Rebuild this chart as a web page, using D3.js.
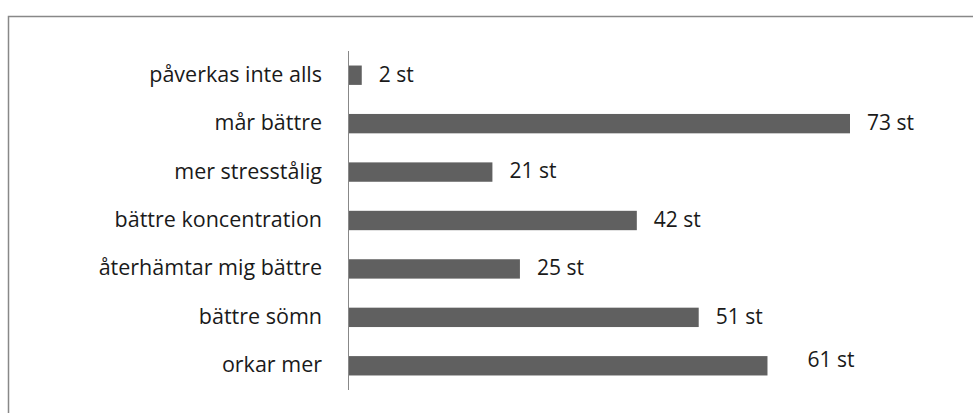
<!DOCTYPE html>
<html><head><meta charset="utf-8">
<script src="https://cdn.jsdelivr.net/npm/d3@7"></script>
<style>html,body{margin:0;padding:0;background:#fff;overflow:hidden}</style>
</head><body>
<svg id="c" width="973" height="413"></svg>
<script>
const categories = ["påverkas inte alls","mår bättre","mer stresstålig","bättre koncentration","återhämtar mig bättre","bättre sömn","orkar mer"];
const values = [2,73,21,42,25,51,61];
const valueLabels = ["2 st","73 st","21 st","42 st","25 st","51 st","61 st"];

const svg = d3.select("#c");
const font = "'Open Sans', sans-serif";
svg.append("rect").attr("x",8.5).attr("y",16.5).attr("width",1000).attr("height",500)
  .attr("fill","#fff").attr("stroke","#888").attr("stroke-width",1.5);

const x0 = 348;
const x = d3.scaleLinear().domain([0,73]).range([x0, 850]);
const y = d3.scaleBand().domain(categories).range([51, 390]).paddingInner(0.6).paddingOuter(0.3);

svg.append("g").selectAll("rect").data(values).join("rect")
  .attr("x", x(0)).attr("y",(d,i)=>y(categories[i]))
  .attr("width", d=>x(d)-x(0)).attr("height", y.bandwidth())
  .attr("fill","#606060");

const yAxis = d3.axisLeft(y).tickSize(0).tickPadding(26);
const g = svg.append("g").attr("transform",`translate(${x0},0)`).call(yAxis);
g.select(".domain").attr("stroke","#888").attr("stroke-width",1).attr("d","M0.5,51V390");
g.selectAll("text").attr("font-family",font).attr("font-size",21.5).attr("fill","#1a1a1a").attr("dy","0.3em");

svg.append("g").selectAll("text").data(values).join("text")
  .attr("x",(d,i)=>x(d)+17 + (i===6?23:0))
  .attr("y",(d,i)=>y(categories[i])+y.bandwidth()/2 - (i===6?5:0))
  .attr("dy","0.3em")
  .attr("font-family",font).attr("font-size",21).attr("fill","#1a1a1a")
  .text((d,i)=>valueLabels[i]);
</script>
</body></html>
